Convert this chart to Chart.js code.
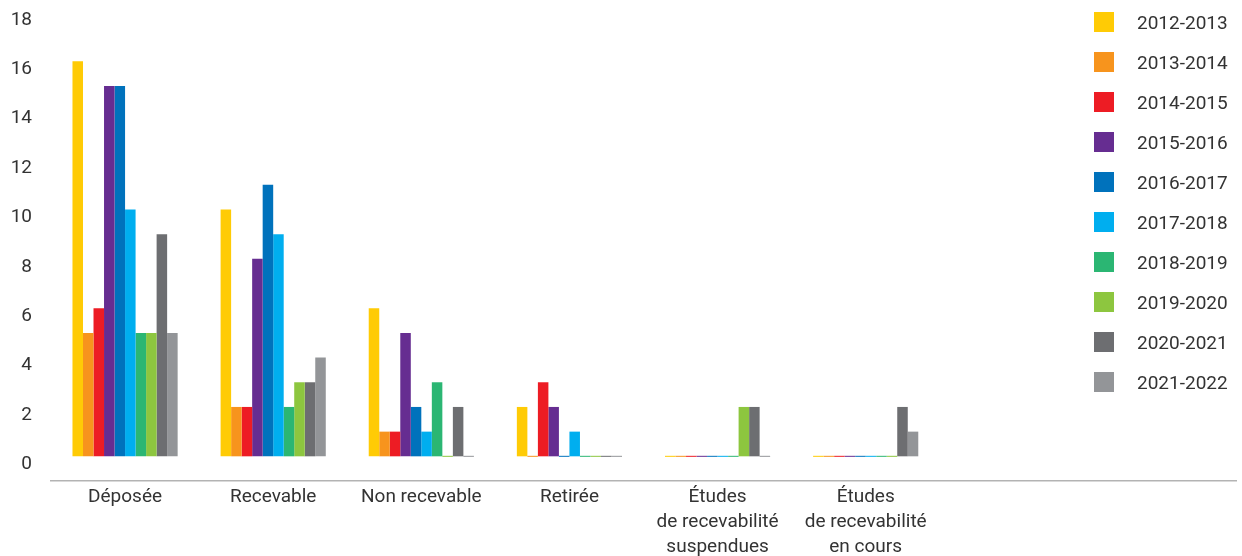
<!DOCTYPE html>
<html>
<head>
<meta charset="utf-8">
<script src="https://cdn.jsdelivr.net/npm/chart.js@4/dist/chart.umd.min.js"></script>
<style>
  html, body { margin: 0; padding: 0; background: #fff; }
  #wrap { position: relative; width: 1242px; height: 556px; }
</style>
</head>
<body>
<div id="wrap"><canvas id="c"></canvas></div>
<script>
const categories = ['Déposée', 'Recevable', 'Non recevable', 'Retirée',
  ['Études', 'de recevabilité', 'suspendues'],
  ['Études', 'de recevabilité', 'en cours'], '', ''];
const seriesLabels = ['2012-2013','2013-2014','2014-2015','2015-2016','2016-2017',
  '2017-2018','2018-2019','2019-2020','2020-2021','2021-2022'];
const v2012_2013 = [16, 10, 6, 2, 0, 0];
const v2013_2014 = [5, 2, 1, 0, 0, 0];
const v2014_2015 = [6, 2, 1, 3, 0, 0];
const v2015_2016 = [15, 8, 5, 2, 0, 0];
const v2016_2017 = [15, 11, 2, 0, 0, 0];
const v2017_2018 = [10, 9, 1, 1, 0, 0];
const v2018_2019 = [5, 2, 3, 0, 0, 0];
const v2019_2020 = [5, 3, 0, 0, 2, 0];
const v2020_2021 = [9, 3, 2, 0, 2, 2];
const v2021_2022 = [5, 4, 0, 0, 0, 1];
const yTicks = [0, 2, 4, 6, 8, 10, 12, 14, 16, 18];

const seriesValues = [v2012_2013, v2013_2014, v2014_2015, v2015_2016, v2016_2017,
  v2017_2018, v2018_2019, v2019_2020, v2020_2021, v2021_2022];
const colors = ['#FFCB05','#F7941D','#ED1C24','#662D91','#0072BC',
  '#00AEEF','#2BB673','#8DC63F','#6D6E71','#939598'];

const legendPlugin = {
  id: 'sideLegend',
  afterDraw(chart) {
    const ctx = chart.ctx;
    ctx.save();
    chart.data.datasets.forEach((ds, i) => {
      const y = 12 + i * 40;
      ctx.fillStyle = ds.backgroundColor;
      ctx.fillRect(1094, y, 20, 20);
      ctx.fillStyle = '#333';
      ctx.font = '19px Roboto';
      ctx.textBaseline = 'middle';
      ctx.textAlign = 'left';
      ctx.fillText(ds.label, 1137, y + 12);
    });
    ctx.restore();
  }
};

new Chart(document.getElementById('c'), {
  type: 'bar',
  data: {
    labels: categories,
    datasets: seriesLabels.map((l, i) => ({
      label: l,
      data: seriesValues[i],
      backgroundColor: colors[i],
      borderWidth: 0,
      minBarLength: 1,
      barPercentage: 1,
      categoryPercentage: 0.71
    }))
  },
  options: {
    responsive: true,
    maintainAspectRatio: false,
    animation: false,
    layout: { padding: { top: 12, right: 6, left: 0, bottom: 0 } },
    plugins: { legend: { display: false }, tooltip: { enabled: false } },
    scales: {
      x: {
        grid: { display: false, drawTicks: false },
        border: { display: true, color: '#b3b3b3', width: 1.5 },
        ticks: {
          color: '#333', padding: 4, maxRotation: 0, autoSkip: false,
          font: { family: 'Roboto', size: 19, lineHeight: 1.3 }
        },
        afterFit(scale) { scale.height = 75; scale.paddingLeft = 0; scale.paddingRight = 0; }
      },
      y: {
        min: -1, max: 18,
        grid: { display: false, drawTicks: false },
        border: { display: false },
        afterBuildTicks(scale) { scale.ticks = [{ value: -1 }].concat(yTicks.map(v => ({ value: v }))); },
        ticks: {
          color: '#333', padding: 19, labelOffset: 8,
          font: { family: 'Roboto', size: 19 },
          callback: (v) => (v < 0 ? '' : String(v))
        },
        afterFit(scale) { scale.width = 51; scale.paddingTop = 0; scale.paddingBottom = 0; }
      }
    }
  },
  plugins: [legendPlugin]
});
</script>
</body>
</html>
